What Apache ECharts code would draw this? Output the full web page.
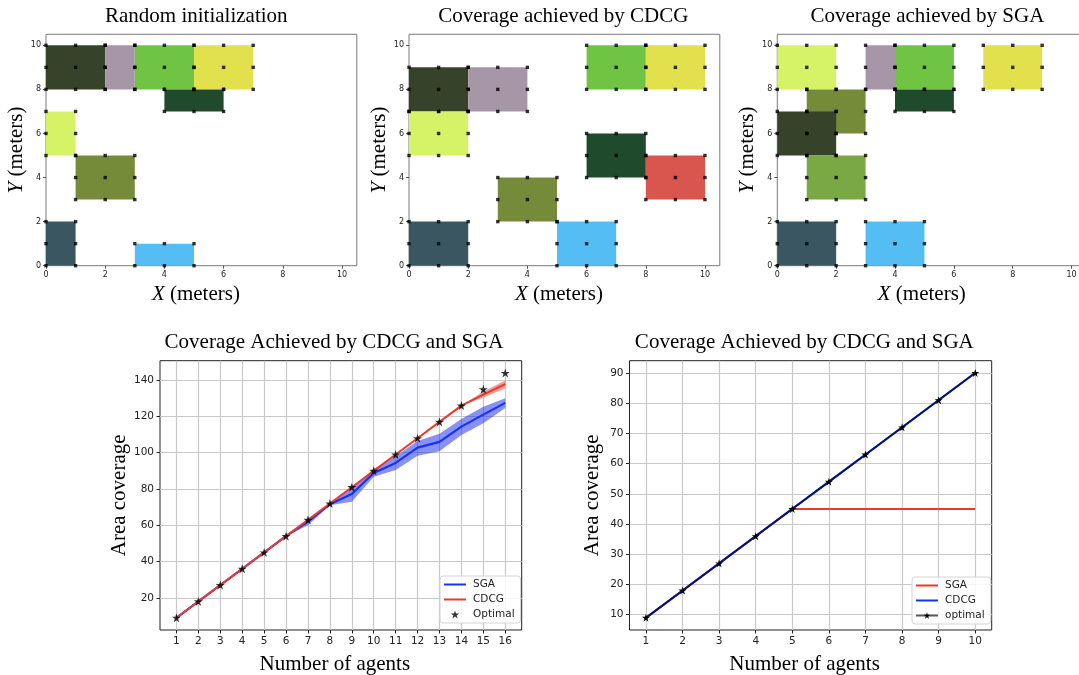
<!DOCTYPE html>
<html>
<head>
<meta charset="utf-8">
<script src="https://cdn.jsdelivr.net/npm/echarts@6/dist/echarts.min.js"></script>
<style>html,body{margin:0;padding:0;background:#fff;}#c{width:1079px;height:675px;}</style>
</head>
<body>
<div id="c"></div>
<script>
// ================= DATA =================
// Top row: agent footprints [agentId, x0, y0, x1, y1] (meters)
const initRects = [[0,0,8,2,10],[1,2,8,3,10],[2,3,8,5,10],[3,5,8,7,10],[4,4,7,6,8],[5,0,5,1,7],[6,1,3,3,5],[7,0,0,1,2],[8,3,0,5,1]];
const cdcgRects = [[0,0,7,2,9],[1,2,7,4,9],[5,0,5,2,7],[2,6,8,8,10],[3,8,8,10,10],[4,6,4,8,6],[9,8,3,10,5],[6,3,2,5,4],[7,0,0,2,2],[8,5,0,7,2]];
const sgaRects  = [[5,0,8,2,10],[1,3,8,4,10],[2,4,8,6,10],[3,7,8,9,10],[4,4,7,6,8],[6,1,6,3,8],[0,0,5,2,7],[10,1,3,3,5],[7,0,0,2,2],[8,3,0,5,2]];
const mapTicks = [0,2,4,6,8,10];

// Bottom-left: 16 agents
const agentsA  = [1,2,3,4,5,6,7,8,9,10,11,12,13,14,15,16];
const optimalA = [9,18,27,36,45,54,63,72,81,90,99,108,117,126,135,144];
const cdcgA    = [9,18,27,36,45,54,63,72,81,90,99,108,117,126,132,137.8];
const cdcgLoA  = [9,18,27,36,45,54,63,72,81,90,99,108,117,126,130.4,135.6];
const cdcgHiA  = [9,18,27,36,45,54,63,72,81,90,99,108,117,126,133.8,139.8];
const sgaA     = [9,18,27,36,45,54,62,71.6,77.2,88.8,94.4,102.8,106,114.4,121,127.5];
const sgaLoA   = [9,18,27,36,45,54,60,71,73,86.7,90.5,98.3,100.8,109.8,116.2,124.6];
const sgaHiA   = [9,18,27,36,45,54,63,72.4,80.6,91,98,106.5,110.4,118.6,125.4,130];
const xTicksA  = [1,2,3,4,5,6,7,8,9,10,11,12,13,14,15,16];
const yTicksA  = [20,40,60,80,100,120,140];

// Bottom-right: 10 agents
const agentsB  = [1,2,3,4,5,6,7,8,9,10];
const sgaB     = [9,18,27,36,45,45,45,45,45,45];
const cdcgB    = [9,18,27,36,45,54,63,72,81,90];
const optimalB = [9,18,27,36,45,54,63,72,81,90];
const xTicksB  = [1,2,3,4,5,6,7,8,9,10];
const yTicksB  = [10,20,30,40,50,60,70,80,90];

// ================= STYLE =================
const AGENT_COLORS = ['#36432a','#a796a8','#6fc444','#e2e04c','#1f4a2b','#d6f266','#758b39','#3a5660','#54bef4','#d9564f','#79a845'];
const SERIF = '"Liberation Serif", "Times New Roman", serif';
const SANS = '"DejaVu Sans", sans-serif';
const STAR = 'path://M50,2 L61.2,36.2 L97.6,36.2 L68.2,57.4 L79.4,91.6 L50,70.4 L20.6,91.6 L31.8,57.4 L2.4,36.2 L38.8,36.2 Z';
const BLUE = '#1433f5', RED = '#ea3a2e';

const chart = echarts.init(document.getElementById('c'), null, {renderer: 'canvas'});

const topGrids = [
  {left: 46, top: 34.3, width: 310.8, height: 231.4},
  {left: 409, top: 34.3, width: 310.8, height: 231.4},
  {left: 777.3, top: 34.3, width: 309, height: 231.4}
];
const nameShift = [11, 11, 20];
const yNameGap = [17.5, 14, 18.8];

const grids = [], xAxes = [], yAxes = [], series = [];
const nameRich = {i: {fontStyle: 'italic', fontFamily: SERIF, fontSize: 21, color: '#000'}, n: {fontFamily: SERIF, fontSize: 21, color: '#000'}};

topGrids.forEach((g, k) => {
  grids.push(Object.assign({show: true, borderColor: '#7a7a7a', borderWidth: 1, backgroundColor: '#fff', outerBoundsMode: 'none', containLabel: false}, g));
  const common = {
    type: 'value', gridIndex: k, min: 0, max: 10.5,
    axisLine: {show: false},
    axisTick: {show: true, length: 3, customValues: mapTicks, lineStyle: {color: '#555', width: 1}},
    axisLabel: {customValues: mapTicks, fontSize: 8, fontFamily: SANS, color: '#222'},
    splitLine: {show: false},
    nameLocation: 'middle'
  };
  xAxes.push(Object.assign({}, common, {
    axisLabel: Object.assign({}, common.axisLabel, {margin: 5}),
    name: '{i|X}{n| (meters)}', nameGap: 18,
    nameTextStyle: {fontFamily: SERIF, fontSize: 21, color: '#000', padding: [0, nameShift[k], 0, 0], rich: nameRich}
  }));
  yAxes.push(Object.assign({}, common, {
    axisLabel: Object.assign({}, common.axisLabel, {margin: 5}),
    name: '{i|Y}{n| (meters)}', nameGap: yNameGap[k], nameRotate: 90,
    nameTextStyle: {fontFamily: SERIF, fontSize: 21, color: '#000', rich: nameRich}
  }));
});

function rectSeries(rects, k) {
  return {
    type: 'custom', xAxisIndex: k, yAxisIndex: k, silent: true, z: 2, clip: true,
    data: rects.map(r => ({value: [r[1], r[2], r[3], r[4]], itemStyle: {color: AGENT_COLORS[r[0]]}})),
    renderItem(params, api) {
      const p0 = api.coord([api.value(0), api.value(3)]);
      const p1 = api.coord([api.value(2), api.value(1)]);
      return {type: 'rect', shape: {x: p0[0], y: p0[1], width: p1[0] - p0[0], height: p1[1] - p0[1]},
        style: {fill: api.visual('color')}};
    }
  };
}
function pointSeries(rects, k) {
  const pts = [];
  rects.forEach(r => {
    for (let x = r[1]; x <= r[3]; x++) for (let y = r[2]; y <= r[4]; y++) pts.push([x, y]);
  });
  return {type: 'scatter', xAxisIndex: k, yAxisIndex: k, silent: true, z: 3, symbol: 'rect', symbolSize: 3.4,
    itemStyle: {color: '#000'}, data: pts, clip: false};
}
[initRects, cdcgRects, sgaRects].forEach((rects, k) => {
  series.push(rectSeries(rects, k));
  series.push(pointSeries(rects, k));
});

// Bottom grids
const botGrids = [
  {left: 160, top: 360.7, width: 361.7, height: 269.3},
  {left: 629.5, top: 360.7, width: 362.2, height: 269.3}
];
const botX = [{min: 0.25, max: 16.75, ticks: xTicksA}, {min: 0.55, max: 10.45, ticks: xTicksB}];
const botY = [{min: 2.25, max: 150.75, ticks: yTicksA}, {min: 4.95, max: 94.05, ticks: yTicksB}];
const botYGap = [30, 26.5];
botGrids.forEach((g, j) => {
  const k = 3 + j;
  grids.push(Object.assign({show: true, borderColor: '#222', borderWidth: 1, backgroundColor: 'transparent', outerBoundsMode: 'none', containLabel: false}, g));
  const mk = (cfg) => ({
    type: 'value', gridIndex: k, min: cfg.min, max: cfg.max,
    axisLine: {show: false},
    axisTick: {show: true, length: 3.5, customValues: cfg.ticks, lineStyle: {color: '#222', width: 1}},
    axisLabel: {customValues: cfg.ticks, fontSize: 10.5, fontFamily: SANS, color: '#222', margin: 6},
    splitLine: {show: true, lineStyle: {color: '#c8c8c8', width: 1.2}},
    nameLocation: 'middle'
  });
  xAxes.push(Object.assign(mk(botX[j]), {name: 'Number of agents', nameGap: 24,
    nameTextStyle: {fontFamily: SERIF, fontSize: 21, color: '#000', padding: [0, 12, 0, 0]}}));
  yAxes.push(Object.assign(mk(botY[j]), {name: 'Area coverage', nameGap: botYGap[j], nameRotate: 90,
    nameTextStyle: {fontFamily: SERIF, fontSize: 21, color: '#000'}}));
});

function bandSeries(k, xs, lo, hi, color) {
  return {
    type: 'custom', xAxisIndex: k, yAxisIndex: k, silent: true, z: 1,
    data: xs.map((x, i) => [x, lo[i], hi[i]]),
    renderItem(params, api) {
      if (params.dataIndex !== 0) return null;
      const pts = [];
      for (let i = 0; i < xs.length; i++) pts.push(api.coord([xs[i], hi[i]]));
      for (let i = xs.length - 1; i >= 0; i--) pts.push(api.coord([xs[i], lo[i]]));
      return {type: 'polygon', shape: {points: pts}, style: {fill: color}};
    }
  };
}
const zip = (a, b) => a.map((v, i) => [v, b[i]]);

// plot 4
series.push(bandSeries(3, agentsA, sgaLoA, sgaHiA, 'rgba(40,55,240,0.55)'));
series.push({type: 'line', name: 'SGA', xAxisIndex: 3, yAxisIndex: 3, z: 3, symbol: 'none', data: zip(agentsA, sgaA),
  lineStyle: {color: BLUE, width: 2.2}, itemStyle: {color: BLUE}});
series.push(bandSeries(3, agentsA, cdcgLoA, cdcgHiA, 'rgba(234,58,46,0.5)'));
series.push({type: 'line', name: 'CDCG', xAxisIndex: 3, yAxisIndex: 3, z: 4, symbol: 'none', data: zip(agentsA, cdcgA),
  lineStyle: {color: RED, width: 2}, itemStyle: {color: RED}});
series.push({type: 'scatter', name: 'Optimal', xAxisIndex: 3, yAxisIndex: 3, z: 5, symbol: STAR, symbolSize: 9,
  data: zip(agentsA, optimalA), itemStyle: {color: '#000'}});

// plot 5 (names carry a trailing space to keep the two legends separate)
series.push({type: 'line', name: 'SGA ', xAxisIndex: 4, yAxisIndex: 4, z: 3, symbol: 'none', data: zip(agentsB, sgaB),
  lineStyle: {color: RED, width: 2}, itemStyle: {color: RED}});
series.push({type: 'line', name: 'CDCG ', xAxisIndex: 4, yAxisIndex: 4, z: 4, symbol: 'none', data: zip(agentsB, cdcgB),
  lineStyle: {color: BLUE, width: 2.2}, itemStyle: {color: BLUE}});
series.push({type: 'line', name: 'optimal', xAxisIndex: 4, yAxisIndex: 4, z: 5, symbol: STAR, symbolSize: 8, showSymbol: true,
  data: zip(agentsB, optimalB), lineStyle: {color: 'rgba(0,0,0,0.65)', width: 1.6}, itemStyle: {color: '#000'}});

const legendBase = {
  orient: 'vertical', itemWidth: 22, itemHeight: 8, itemGap: 4, padding: [3, 6, 3, 3],
  backgroundColor: 'rgba(255,255,255,0.85)', borderColor: '#d4d4d4', borderWidth: 1, borderRadius: 3,
  selectedMode: false,
  textStyle: {fontFamily: SANS, fontSize: 10.5, color: '#222', lineHeight: 11, padding: [0, 0, 0, 2]}
};
const lineOnly = (name) => ({name: name, itemStyle: {opacity: 0}});

const titleText = (txt, x, y) => ({type: 'text', x: x, y: y, silent: true,
  style: {text: txt, font: '21px ' + SERIF, fill: '#000', textAlign: 'center', textVerticalAlign: 'middle', align: 'center', verticalAlign: 'middle'}});

chart.setOption({
  animation: false,
  backgroundColor: '#fff',
  grid: grids,
  xAxis: xAxes,
  yAxis: yAxes,
  series: series,
  legend: [
    Object.assign({}, legendBase, {data: [lineOnly('SGA'), lineOnly('CDCG'), 'Optimal'], left: 440, top: 576}),
    Object.assign({}, legendBase, {data: [lineOnly('SGA '), lineOnly('CDCG '), 'optimal'], left: 912, top: 577})
  ],
  graphic: [
    titleText('Random initialization', 196.3, 16.7),
    titleText('Coverage achieved by CDCG', 563.3, 16.7),
    titleText('Coverage achieved by SGA', 927.4, 16.7),
    titleText('Coverage Achieved by CDCG and SGA', 334, 342.7),
    titleText('Coverage Achieved by CDCG and SGA', 804.3, 342.7)
  ]
});
</script>
</body>
</html>
